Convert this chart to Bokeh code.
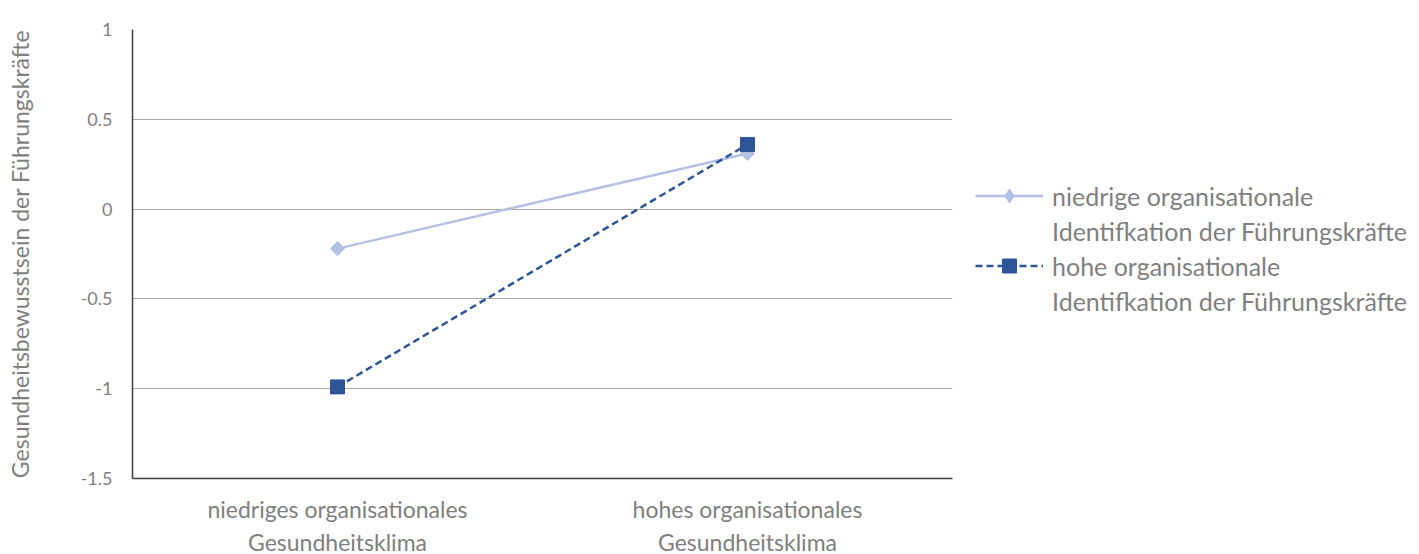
import math
from bokeh.plotting import figure
from bokeh.models import Legend, LegendItem, FixedTicker
from bokeh.embed import file_html
from bokeh.resources import INLINE

categories = ["niedriges organisationales\nGesundheitsklima", "hohes organisationales\nGesundheitsklima"]
low_ident = [-0.22, 0.31]
high_ident = [-0.99, 0.36]
series_line1 = ["niedrige organisationale", "hohe organisationale"]
series_line2 = ["Identifkation der Führungskräfte", "Identifkation der Führungskräfte"]
y_ticks = [1, 0.5, 0, -0.5, -1, -1.5]
y_tick_labels = ["1", "0.5", "0", "-0.5", "-1", "-1.5"]

FONT = "Lato"
TXT = "#7f7f7f"
LIGHT = "#b4c0e4"
DARK = "#2f5597"

p = figure(x_range=categories, y_range=(-1.5, 1), frame_width=820, frame_height=449,
           output_backend="svg", toolbar_location=None,
           min_border_left=132, min_border_top=29, min_border_bottom=20, min_border_right=10)
p.outline_line_color = None

r1 = p.line(categories, low_ident, line_color=LIGHT, line_width=2.5)
legend_diamond = p.scatter(categories, low_ident, marker="diamond", size=13,
                           fill_color=LIGHT, line_color=LIGHT)
m1 = p.scatter(categories, low_ident, marker="square", angle=math.pi / 4, size=10,
               fill_color=LIGHT, line_color=LIGHT)
r2 = p.line(categories, high_ident, line_color=DARK, line_width=2.5, line_dash="7 4")
m2 = p.scatter(categories, high_ident, marker="square", size=14, fill_color=DARK, line_color=DARK)
dummy = p.line(x=[], y=[], line_alpha=0)

p.yaxis.ticker = FixedTicker(ticks=y_ticks)
p.yaxis.major_label_overrides = {t: l for t, l in zip(y_ticks, y_tick_labels)}
p.yaxis.axis_label = "Gesundheitsbewusstsein der Führungskräfte"
for ax in [p.xaxis[0], p.yaxis[0]]:
    ax.major_tick_line_color = None
    ax.minor_tick_line_color = None
    ax.axis_line_color = "#404040"
    ax.axis_line_width = 1.5
    ax.major_label_text_font = FONT
    ax.major_label_text_color = TXT
    ax.axis_label_text_font = FONT
    ax.axis_label_text_color = TXT
    ax.axis_label_text_font_style = "normal"
p.yaxis.major_label_text_font_size = "18px"
p.yaxis.axis_label_text_font_size = "23px"
p.yaxis.axis_label_standoff = 44
p.yaxis.major_label_standoff = 14
p.xaxis.major_label_text_font_size = "23px"
p.xaxis.major_label_standoff = 10

p.xgrid.grid_line_color = None
p.ygrid.grid_line_color = "#a6a6a6"
p.ygrid.grid_line_width = 1.2

legend = Legend(items=[LegendItem(label=series_line1[0], renderers=[r1, legend_diamond]),
                       LegendItem(label=series_line2[0], renderers=[dummy]),
                       LegendItem(label=series_line1[1], renderers=[r2, m2]),
                       LegendItem(label=series_line2[1], renderers=[dummy])],
                location=(23, 160), border_line_color=None, background_fill_alpha=0,
                label_text_font=FONT, label_text_font_size="25px", label_text_color=TXT,
                glyph_width=68, glyph_height=35, label_height=35, label_standoff=9, spacing=0,
                margin=0, padding=0)
p.add_layout(legend, "right")

open("out.html", "w").write(file_html(p, INLINE))
